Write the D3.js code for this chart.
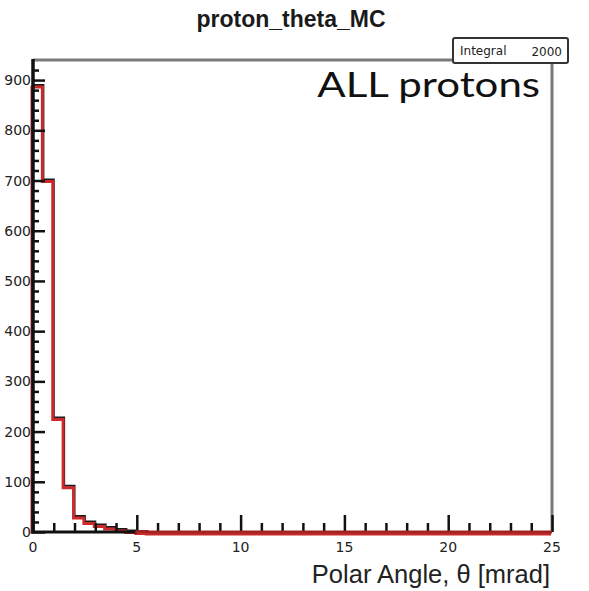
<!DOCTYPE html>
<html>
<head>
<meta charset="utf-8">
<script src="https://cdn.jsdelivr.net/npm/d3@7"></script>
<style>
  html, body { margin: 0; padding: 0; background: #fff; }
  svg { display: block; }
</style>
</head>
<body>
<svg id="chart" width="589" height="591"></svg>
<script>
// Histogram of the MC proton polar angle, 0.5 mrad bins from 0 to 25 mrad
const binWidth = 0.5;
const binLowEdges = d3.range(0, 25, binWidth);
const counts = [890, 702, 228, 92, 32, 21, 15, 10, 6, 3, 1,
  0, 0, 0, 0, 0, 0, 0, 0, 0, 0, 0, 0, 0, 0, 0, 0, 0, 0, 0,
  0, 0, 0, 0, 0, 0, 0, 0, 0, 0, 0, 0, 0, 0, 0, 0, 0, 0, 0, 0];
const xMajorTicks = [0, 5, 10, 15, 20, 25];
const yMajorTicks = [0, 100, 200, 300, 400, 500, 600, 700, 800, 900];
const titleText = "proton_theta_MC";
const xTitle = "Polar Angle, \u03b8 [mrad]";
const statsLabel = "Integral";
const statsValue = d3.sum(counts);
const noteText = "ALL protons";

const svg = d3.select("#chart");
const frame = { left: 33, right: 552, top: 60, bottom: 532 };

const x = d3.scaleLinear().domain([0, 25]).range([frame.left, frame.right]);
const y = d3.scaleLinear().domain([0, 940]).range([frame.bottom, frame.top]);

// frame (top and right edges)
svg.append("path")
  .attr("d", `M${frame.left},${frame.top}H${frame.right}V${frame.bottom}`)
  .attr("fill", "none").attr("stroke", "#7a7a7a").attr("stroke-width", 3);

// histogram outline as a step path
const pts = [[0, 0]];
binLowEdges.forEach((lo, i) => { pts.push([lo, counts[i]]); pts.push([lo + binWidth, counts[i]]); });
const line = d3.line().x(d => x(d[0])).y(d => y(d[1]));
svg.append("path").attr("d", line(pts))
  .attr("fill", "none").attr("stroke", "#1a1a1a").attr("stroke-width", 2);
svg.append("path").attr("d", line(pts))
  .attr("transform", "translate(-1,2)")
  .attr("fill", "none").attr("stroke", "#cc2a2a").attr("stroke-width", 3);

// y axis
const yAxis = d3.axisRight(y)
  .tickValues(d3.range(0, 921, 20))
  .tickSize(0).tickFormat("");
const yg = svg.append("g").attr("transform", `translate(${frame.left},0)`);
yg.call(yAxis);
yg.select(".domain").remove();
yg.selectAll(".tick line")
  .attr("x2", d => (d % 100 === 0 ? 12 : 6))
  .attr("stroke", "#111").attr("stroke-width", 2.5);
svg.append("line")
  .attr("x1", frame.left).attr("x2", frame.left)
  .attr("y1", frame.top - 1).attr("y2", frame.bottom + 1)
  .attr("stroke", "#111").attr("stroke-width", 3.5);
svg.append("g").selectAll("text").data(yMajorTicks).join("text")
  .attr("x", frame.left - 2).attr("y", d => y(d)).attr("dy", "0.36em")
  .attr("text-anchor", "end")
  .attr("font-family", "DejaVu Sans").attr("font-size", 14).attr("fill", "#222")
  .text(d => d);

// x axis
const xAxis = d3.axisTop(x).tickValues(d3.range(0, 26, 1)).tickSize(0).tickFormat("");
const xg = svg.append("g").attr("transform", `translate(0,${frame.bottom})`);
xg.call(xAxis);
xg.select(".domain").remove();
xg.selectAll(".tick line")
  .attr("y2", d => (d % 5 === 0 ? -17 : -9))
  .attr("stroke", "#111").attr("stroke-width", 2.5);
svg.append("line")
  .attr("x1", frame.left - 1).attr("x2", x(5))
  .attr("y1", frame.bottom).attr("y2", frame.bottom)
  .attr("stroke", "#111").attr("stroke-width", 3);
svg.append("g").selectAll("text").data(xMajorTicks).join("text")
  .attr("x", d => x(d)).attr("y", 552)
  .attr("text-anchor", "middle")
  .attr("font-family", "DejaVu Sans").attr("font-size", 14).attr("fill", "#222")
  .text(d => d);

// the empty bins run along the axis in dark red
svg.append("path").attr("d", line(pts.filter(p => p[0] >= 5)))
  .attr("fill", "none").attr("stroke", "#a32222").attr("stroke-width", 3);

// axis title
svg.append("text").attr("x", 550).attr("y", 583).attr("text-anchor", "end")
  .attr("font-family", "Liberation Sans, Arial, sans-serif").attr("font-size", 25.5).attr("fill", "#222")
  .text(xTitle);

// histogram title
svg.append("text").attr("x", 291).attr("y", 27).attr("text-anchor", "middle")
  .attr("font-family", "Liberation Sans, Arial, sans-serif").attr("font-weight", "bold")
  .attr("font-size", 23).attr("fill", "#1a1a1a")
  .text(titleText);

// stats box
svg.append("rect").attr("x", 453).attr("y", 38).attr("width", 115).attr("height", 25)
  .attr("rx", 2).attr("fill", "#fff").attr("stroke", "#333").attr("stroke-width", 2);
svg.append("text").attr("x", 460).attr("y", 55)
  .attr("font-family", "DejaVu Sans").attr("font-size", 12).attr("fill", "#222")
  .text(statsLabel);
svg.append("text").attr("x", 562).attr("y", 56).attr("text-anchor", "end")
  .attr("font-family", "DejaVu Sans").attr("font-size", 12).attr("fill", "#222")
  .text(statsValue);

// annotation, set wide
svg.append("text")
  .attr("transform", "translate(540,97) scale(1.2,1)")
  .attr("text-anchor", "end")
  .attr("font-family", "Lato, sans-serif").attr("font-size", 35).attr("fill", "#111")
  .text(noteText);
</script>
</body>
</html>
